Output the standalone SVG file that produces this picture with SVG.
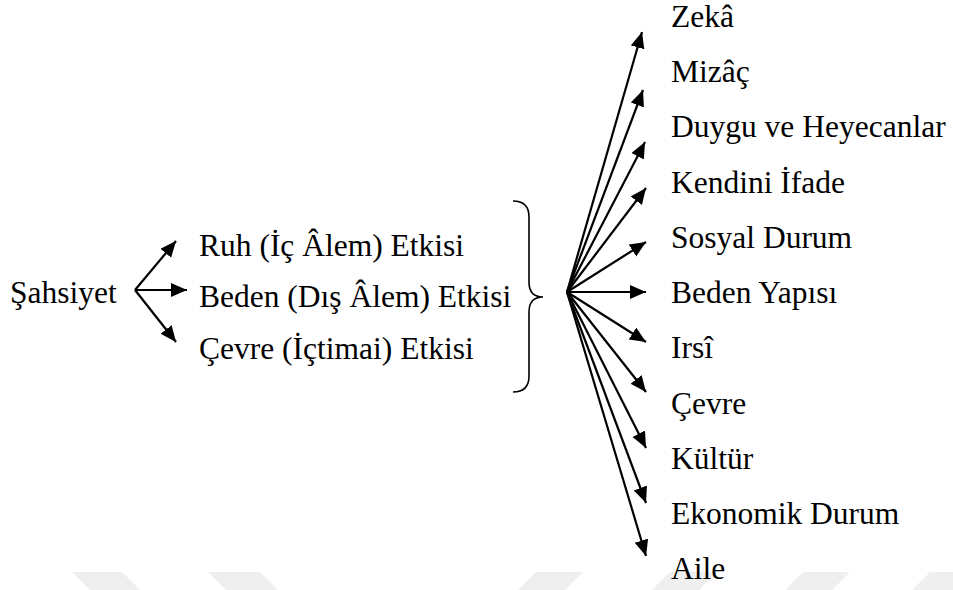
<svg xmlns="http://www.w3.org/2000/svg" width="953" height="590" viewBox="0 0 953 590">
<defs>
<marker id="ah" markerUnits="userSpaceOnUse" markerWidth="17" markerHeight="15" refX="16" refY="7" orient="auto">
<path d="M0,0 L16,7 L0,14 Z" fill="#000"/>
</marker>
<style>
text{font-family:'Liberation Serif','DejaVu Serif',serif;font-size:31.5px;fill:#000}
.c{stroke:#000;stroke-width:2.2;fill:none;marker-end:url(#ah)}
.w{fill:#efefef}
</style>
</defs>
<rect width="953" height="590" fill="#fff"/>
<g id="watermark">
<polygon class="w" points="72,572 122,572 140,590 90,590"/>
<polygon class="w" points="208,572 260,572 278,590 226,590"/>
<polygon class="w" points="536,572 583,572 565,590 518,590"/>
<polygon class="w" points="670,572 717,572 699,590 652,590"/>
<polygon class="w" points="803,572 850,572 832,590 785,590"/>
<polygon class="w" points="930,572 980,572 962,590 912,590"/>
</g>
<g id="connectors">
<line class="c" x1="135" y1="290" x2="176" y2="241"/>
<line class="c" x1="135" y1="290" x2="187" y2="290"/>
<line class="c" x1="135" y1="290" x2="176" y2="342"/>
<line class="c" x1="567" y1="292" x2="642" y2="32"/>
<line class="c" x1="567" y1="292" x2="643" y2="90"/>
<line class="c" x1="567" y1="292" x2="645" y2="142"/>
<line class="c" x1="567" y1="292" x2="646" y2="188"/>
<line class="c" x1="567" y1="292" x2="646" y2="242"/>
<line class="c" x1="567" y1="292" x2="646" y2="292"/>
<line class="c" x1="567" y1="292" x2="646" y2="342"/>
<line class="c" x1="567" y1="292" x2="646" y2="392"/>
<line class="c" x1="567" y1="292" x2="646" y2="448"/>
<line class="c" x1="567" y1="292" x2="646" y2="503"/>
<line class="c" x1="567" y1="292" x2="646" y2="556"/>
</g>
<g id="brace">
<path d="M513,201 Q529,201 529,217 L529,282 Q529,297 543,297 Q529,297 529,312 L529,376 Q529,392 513,392" fill="none" stroke="#000" stroke-width="1.6"/>
</g>
<g id="sahsiyet"><text x="10" y="303">Şahsiyet</text></g>
<g id="ruh"><text x="199" y="256">Ruh (İç Âlem) Etkisi</text></g>
<g id="beden"><text x="199" y="307">Beden (Dış Âlem) Etkisi</text></g>
<g id="cevre-ictimai"><text x="199" y="359">Çevre (İçtimai) Etkisi</text></g>
<g id="zeka"><text x="671" y="27">Zekâ</text></g>
<g id="mizac"><text x="671" y="82">Mizâç</text></g>
<g id="duygu"><text x="671" y="137">Duygu ve Heyecanlar</text></g>
<g id="kendini"><text x="671" y="193">Kendini İfade</text></g>
<g id="sosyal"><text x="671" y="248">Sosyal Durum</text></g>
<g id="beden-yapisi"><text x="671" y="303">Beden Yapısı</text></g>
<g id="irsi"><text x="671" y="358">Irsî</text></g>
<g id="cevre"><text x="671" y="414">Çevre</text></g>
<g id="kultur"><text x="671" y="469">Kültür</text></g>
<g id="ekonomik"><text x="671" y="524">Ekonomik Durum</text></g>
<g id="aile"><text x="671" y="579">Aile</text></g>
</svg>
